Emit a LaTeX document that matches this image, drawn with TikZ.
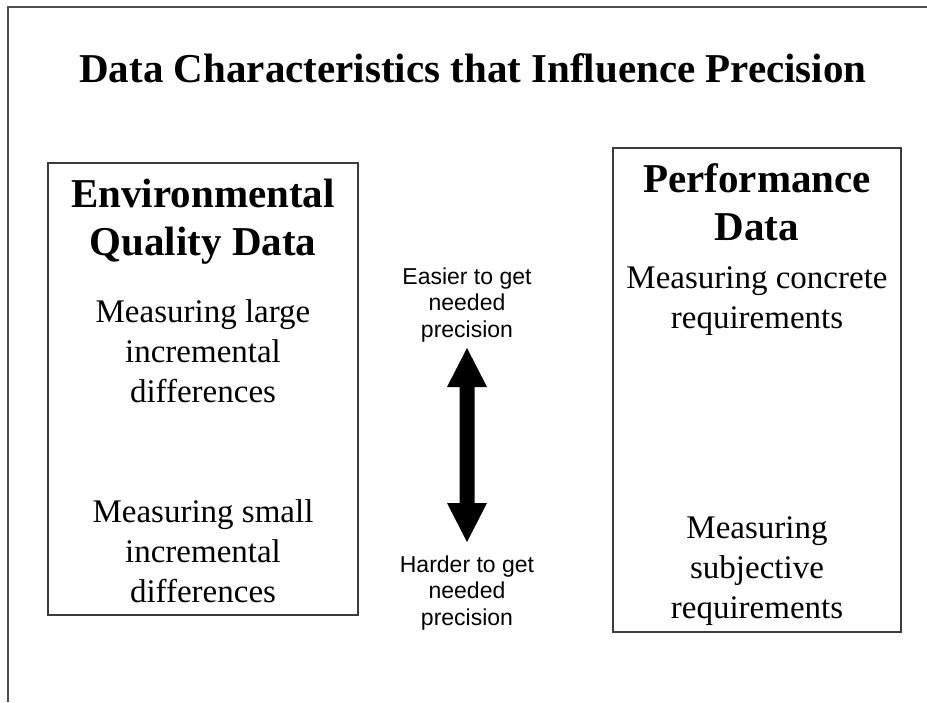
\documentclass[tikz,border=0pt]{standalone}
\usepackage{fontspec}
\setmainfont{Liberation Serif}
\newfontfamily\arialfont{Liberation Sans}
\definecolor{framegray}{RGB}{80,80,80}
\definecolor{boxgray}{RGB}{60,60,60}
\begin{document}
\begin{tikzpicture}[x=1pt,y=-1pt,
  framestyle/.style={draw=framegray,line width=1.6pt},
  boxstyle/.style={draw=boxgray,line width=1.2pt,inner sep=0pt},
  titlestyle/.style={font=\fontsize{41}{48}\selectfont\bfseries,inner sep=0pt,anchor=base},
  headstyle/.style={font=\fontsize{41}{48}\selectfont\bfseries,inner sep=0pt,anchor=base,align=center},
  bodystyle/.style={font=\fontsize{33}{40}\selectfont,inner sep=0pt,anchor=base,align=center},
  sidestyle/.style={font=\arialfont\fontsize{23}{26.5}\selectfont,inner sep=0pt,anchor=base,align=center}]
\useasboundingbox (0,0) rectangle (927,702);
\draw[framestyle] (8,702) -- (8,7) -- (927,7);
% boxes
\node[boxstyle,minimum width=310pt,minimum height=452pt] (envbox) at (203,389) {};
\node[boxstyle,minimum width=288pt,minimum height=484pt] (perfbox) at (757,390) {};
% title
\node[titlestyle] (title) at (473,82) {Data Characteristics that Influence Precision};
% left box
\node[headstyle] (envhead) at (203,255) {Environmental\\Quality Data};
\node[bodystyle] (envlarge) at (203,402) {Measuring large\\incremental\\differences};
\node[bodystyle] (envsmall) at (203,602) {Measuring small\\incremental\\differences};
% right box
\node[headstyle] (perfhead) at (757,240) {Performance\\Data};
\node[bodystyle] (perfconc) at (757,328) {Measuring concrete\\requirements};
\node[bodystyle] (perfsubj) at (757,618) {Measuring\\subjective\\requirements};
% middle
\node[sidestyle] (easier) at (467,337) {Easier to get\\needed\\precision};
\node[sidestyle] (harder) at (467,625) {Harder to get\\needed\\precision};
\coordinate (uptip) at (467,348);
\coordinate (downtip) at (467,542);
\fill[black] (uptip) -- ++(20,39) -- ++(-12.5,0) -- ++(0,116) -- ++(12.5,0)
  -- (downtip) -- ++(-20,-39) -- ++(12.5,0) -- ++(0,-116) -- ++(-12.5,0) -- cycle;
\end{tikzpicture}
\end{document}
